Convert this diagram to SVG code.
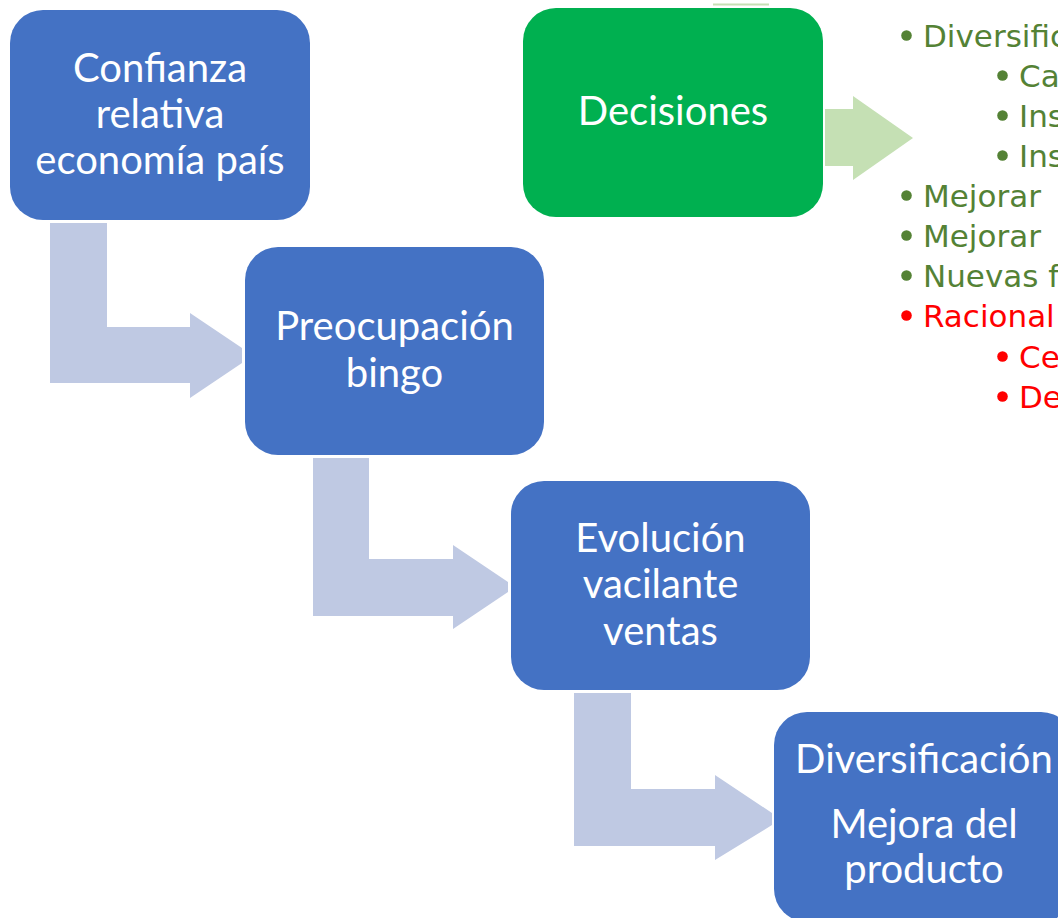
<svg xmlns="http://www.w3.org/2000/svg" width="1058" height="918" viewBox="0 0 1058 918">
<style>
.box{fill:#4472C4;}
.gbox{fill:#00B050;}
.arr{fill:#BFC9E3;}
.garr{fill:#C5E0B4;}
.bt{font-family:Lato,"Open Sans","Liberation Sans",sans-serif;font-size:40px;fill:#FFFFFF;text-anchor:middle;}
.li{font-family:"DejaVu Sans",Verdana,sans-serif;font-size:31px;}
.g{fill:#548235;}
.r{fill:#FF0000;}
</style>
<rect width="1058" height="918" fill="#FFFFFF"/>
<g id="connectors">
<polygon class="arr" points="50,223 107,223 107,327 190,327 190,313 242,348 242,363 190,398 190,383 50,383"/>
<polygon class="arr" points="313,458 369,458 369,559 453,559 453,545 508,582 508,592 453,629 453,616 313,616"/>
<polygon class="arr" points="574,693 631,693 631,789 715,789 715,775 772,813 772,825 715,860 715,846 574,846"/>
<polygon class="garr" points="825,109 853,109 853,96 913,138 853,180 853,166 825,166"/>
</g>
<line x1="713" y1="4.5" x2="769" y2="4.5" stroke="#C5E0B4" stroke-width="2"/>
<g id="node-confianza">
<rect class="box" x="10" y="10" width="300" height="210" rx="33"/>
<text class="bt" x="160" y="82">Confianza</text>
<text class="bt" x="160" y="128">relativa</text>
<text class="bt" x="160" y="174">economía país</text>
</g>
<g id="node-preocupacion">
<rect class="box" x="245" y="247" width="299" height="208" rx="33"/>
<text class="bt" x="394.5" y="340">Preocupación</text>
<text class="bt" x="394.5" y="387">bingo</text>
</g>
<g id="node-evolucion">
<rect class="box" x="511" y="481" width="299" height="209" rx="33"/>
<text class="bt" x="660.5" y="552">Evolución</text>
<text class="bt" x="660.5" y="598">vacilante</text>
<text class="bt" x="660.5" y="645">ventas</text>
</g>
<g id="node-diversificacion">
<rect class="box" x="774" y="712" width="300" height="210" rx="33"/>
<text class="bt" x="924" y="773">Diversificación</text>
<text class="bt" x="924" y="838">Mejora del</text>
<text class="bt" x="924" y="883">producto</text>
</g>
<g id="node-decisiones">
<rect class="gbox" x="523" y="8" width="300" height="209" rx="33"/>
<text class="bt" x="673" y="125">Decisiones</text>
</g>
<g id="list">
<circle class="g" cx="906.5" cy="35.5" r="5.3"/><text class="li g" x="923" y="47">Diversific</text>
<circle class="g" cx="1002.5" cy="75.5" r="5.3"/><text class="li g" x="1019" y="87">Ca</text>
<circle class="g" cx="1002.5" cy="115.5" r="5.3"/><text class="li g" x="1019" y="127">Ins</text>
<circle class="g" cx="1002.5" cy="155.5" r="5.3"/><text class="li g" x="1019" y="167">Ins</text>
<circle class="g" cx="906.5" cy="195.5" r="5.3"/><text class="li g" x="923" y="207">Mejorar</text>
<circle class="g" cx="906.5" cy="235.5" r="5.3"/><text class="li g" x="923" y="247">Mejorar</text>
<circle class="g" cx="906.5" cy="275.5" r="5.3"/><text class="li g" x="923" y="287">Nuevas f</text>
<circle class="r" cx="906.5" cy="315.5" r="5.3"/><text class="li r" x="923" y="327">Racional</text>
<circle class="r" cx="1002.5" cy="356.5" r="5.3"/><text class="li r" x="1019" y="368">Ce</text>
<circle class="r" cx="1002.5" cy="396.5" r="5.3"/><text class="li r" x="1019" y="408">De</text>
</g>
</svg>
